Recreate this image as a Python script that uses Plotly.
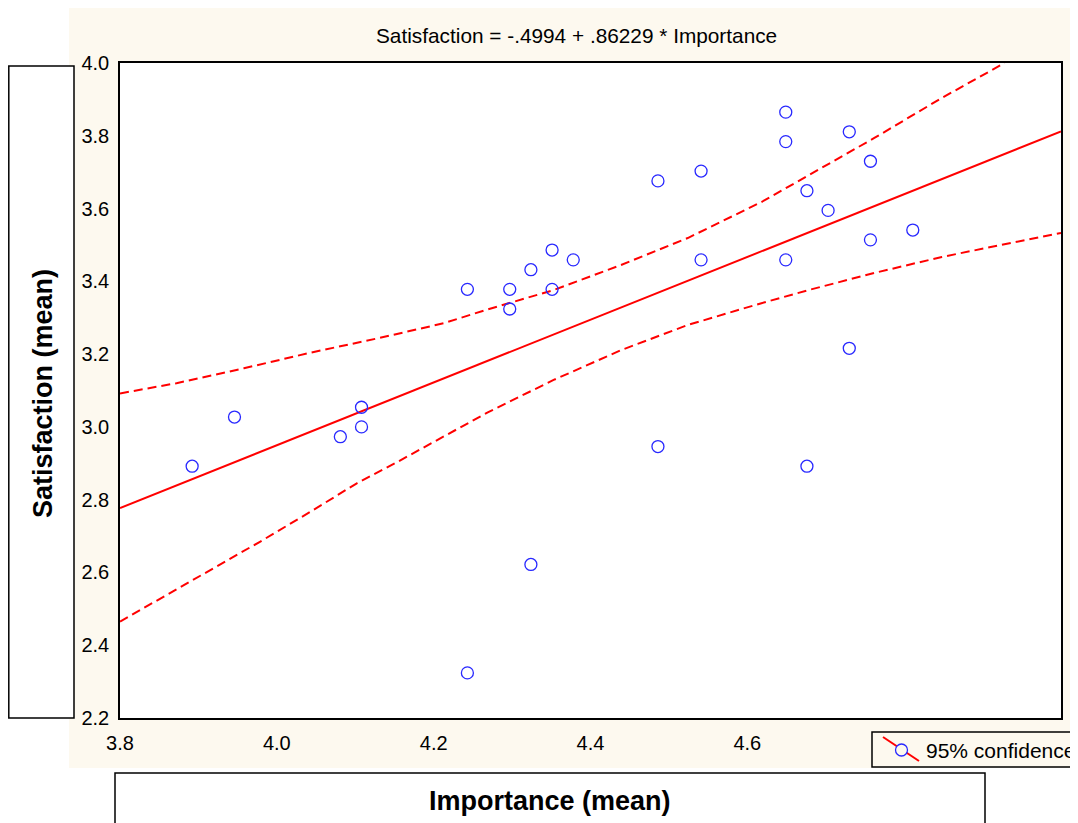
import plotly.graph_objects as go

# ---- data ----
importance = [3.892, 3.946, 4.081, 4.108, 4.108, 4.243, 4.243, 4.297, 4.297, 4.324,
              4.324, 4.351, 4.351, 4.378, 4.486, 4.486, 4.541, 4.541, 4.649, 4.649,
              4.649, 4.676, 4.676, 4.703, 4.730, 4.730, 4.757, 4.757, 4.811]
satisfaction = [2.892, 3.027, 2.973, 3.054, 3.000, 3.378, 2.324, 3.378, 3.324, 3.432,
                2.622, 3.486, 3.378, 3.459, 3.676, 2.946, 3.703, 3.459, 3.865, 3.784,
                3.459, 3.649, 2.892, 3.595, 3.811, 3.216, 3.730, 3.514, 3.541]

fit_x = [3.8, 5.0]
fit_y = [2.777, 3.812]

upper_x = [3.800, 3.872, 3.958, 4.043, 4.128, 4.213, 4.269, 4.353, 4.439, 4.524,
           4.618, 4.678, 4.762, 4.848, 4.928]
upper_y = [3.092, 3.120, 3.161, 3.204, 3.243, 3.285, 3.323, 3.376, 3.445, 3.519,
           3.618, 3.692, 3.794, 3.904, 4.000]

lower_x = [3.800, 3.864, 3.924, 3.979, 4.043, 4.102, 4.154, 4.213, 4.269, 4.353,
           4.439, 4.524, 4.618, 4.678, 4.762, 4.848, 4.934, 5.000]
lower_y = [2.465, 2.543, 2.616, 2.685, 2.767, 2.845, 2.904, 2.975, 3.040, 3.129,
           3.211, 3.280, 3.340, 3.376, 3.423, 3.467, 3.505, 3.533]

x_ticks = [3.8, 4.0, 4.2, 4.4, 4.6]
y_ticks = [2.2, 2.4, 2.6, 2.8, 3.0, 3.2, 3.4, 3.6, 3.8, 4.0]

title_text = "Satisfaction = -.4994 + .86229 * Importance"
x_title = "Importance (mean)"
y_title = "Satisfaction (mean)"
legend_text = "95% confidence"

# ---- layout geometry (page pixels; page body has an 8px margin) ----
OFF = 8
W, H = 1078 - OFF, 823 - OFF
L, R, T, B = 120, 1061, 63, 718
PW, PH = R - L, B - T
FONT = "Liberation Sans, Arial, sans-serif"
BEIGE = "#FDF9EF"
RED = "#FF0000"
BLUE = "#2828FF"


def px(x):
    return (x - L) / PW


def py(y):
    return (B - y) / PH


fig = go.Figure()

dash = "9px,5px"
fig.add_trace(go.Scatter(x=upper_x, y=upper_y, mode="lines",
                         line=dict(color=RED, width=2, dash=dash),
                         showlegend=False, hoverinfo="skip"))
fig.add_trace(go.Scatter(x=lower_x, y=lower_y, mode="lines",
                         line=dict(color=RED, width=2, dash=dash),
                         showlegend=False, hoverinfo="skip"))
fig.add_trace(go.Scatter(x=fit_x, y=fit_y, mode="lines",
                         line=dict(color=RED, width=2),
                         showlegend=False, hoverinfo="skip"))
fig.add_trace(go.Scatter(x=importance, y=satisfaction, mode="markers",
                         marker=dict(symbol="circle-open", size=12,
                                     color=BLUE, line=dict(color=BLUE, width=1.3)),
                         showlegend=False))

shapes = [
    # beige panel
    dict(type="rect", xref="paper", yref="paper", x0=px(69), x1=px(1090),
         y0=py(768), y1=py(8), fillcolor=BEIGE, line=dict(width=0), layer="below"),
    # white plotting area
    dict(type="rect", xref="paper", yref="paper", x0=0, x1=1, y0=0, y1=1,
         fillcolor="white", line=dict(width=0), layer="below"),
    # y title box
    dict(type="rect", xref="paper", yref="paper", x0=px(8.8), x1=px(74),
         y0=py(718), y1=py(66), fillcolor="white",
         line=dict(color="black", width=1.5), layer="below"),
    # x title box
    dict(type="rect", xref="paper", yref="paper", x0=px(115), x1=px(985),
         y0=py(840), y1=py(773), fillcolor="white",
         line=dict(color="black", width=1.5), layer="below"),
    # legend box
    dict(type="rect", xref="paper", yref="paper", x0=px(872), x1=px(1095),
         y0=py(767), y1=py(732), fillcolor=BEIGE,
         line=dict(color="black", width=1.5), layer="above"),
    # legend glyph line
    dict(type="line", xref="paper", yref="paper", x0=px(883), x1=px(919),
         y0=py(737), y1=py(761), line=dict(color=RED, width=2), layer="above"),
    # legend glyph circle
    dict(type="circle", xref="paper", yref="paper", x0=px(895.5), x1=px(907.5),
         y0=py(756), y1=py(744), fillcolor=BEIGE,
         line=dict(color=BLUE, width=1.3), layer="above"),
]

annotations = [
    dict(text=title_text, xref="paper", yref="paper", x=px(576), y=py(36),
         xanchor="center", yanchor="middle", showarrow=False,
         font=dict(family=FONT, size=20.8, color="black")),
    dict(text="<b>" + x_title + "</b>", xref="paper", yref="paper", x=px(550), y=py(801),
         xanchor="center", yanchor="middle", showarrow=False,
         font=dict(family=FONT, size=27, color="black")),
    dict(text="<b>" + y_title + "</b>", xref="paper", yref="paper", x=px(43), y=py(394),
         xanchor="center", yanchor="middle", showarrow=False, textangle=-90,
         font=dict(family=FONT, size=27, color="black")),
    dict(text=legend_text, xref="paper", yref="paper", x=px(924), y=py(750),
         xanchor="left", yanchor="middle", showarrow=False,
         font=dict(family=FONT, size=21, color="black")),
]

fig.update_layout(
    width=W, height=H,
    margin=dict(l=L - OFF, r=W - (R - OFF), t=T - OFF, b=H - (B - OFF), pad=0),
    paper_bgcolor="white", plot_bgcolor="white",
    shapes=shapes, annotations=annotations,
    showlegend=False,
    font=dict(family=FONT, size=20, color="black"),
    xaxis=dict(range=[3.8, 5.0], tickvals=x_ticks,
               ticktext=[f"{v:.1f}" for v in x_ticks],
               showgrid=False, zeroline=False, ticks="",
               showline=True, mirror=True, linecolor="black", linewidth=1.5,
               ticklabelstandoff=6, tickfont=dict(size=20)),
    yaxis=dict(range=[2.2, 4.0], tickvals=y_ticks,
               ticktext=[f"{v:.1f}" for v in y_ticks],
               showgrid=False, zeroline=False, ticks="",
               showline=True, mirror=True, linecolor="black", linewidth=1.5,
               ticklabelstandoff=5, tickfont=dict(size=20)),
)

fig.write_html("out.html")
